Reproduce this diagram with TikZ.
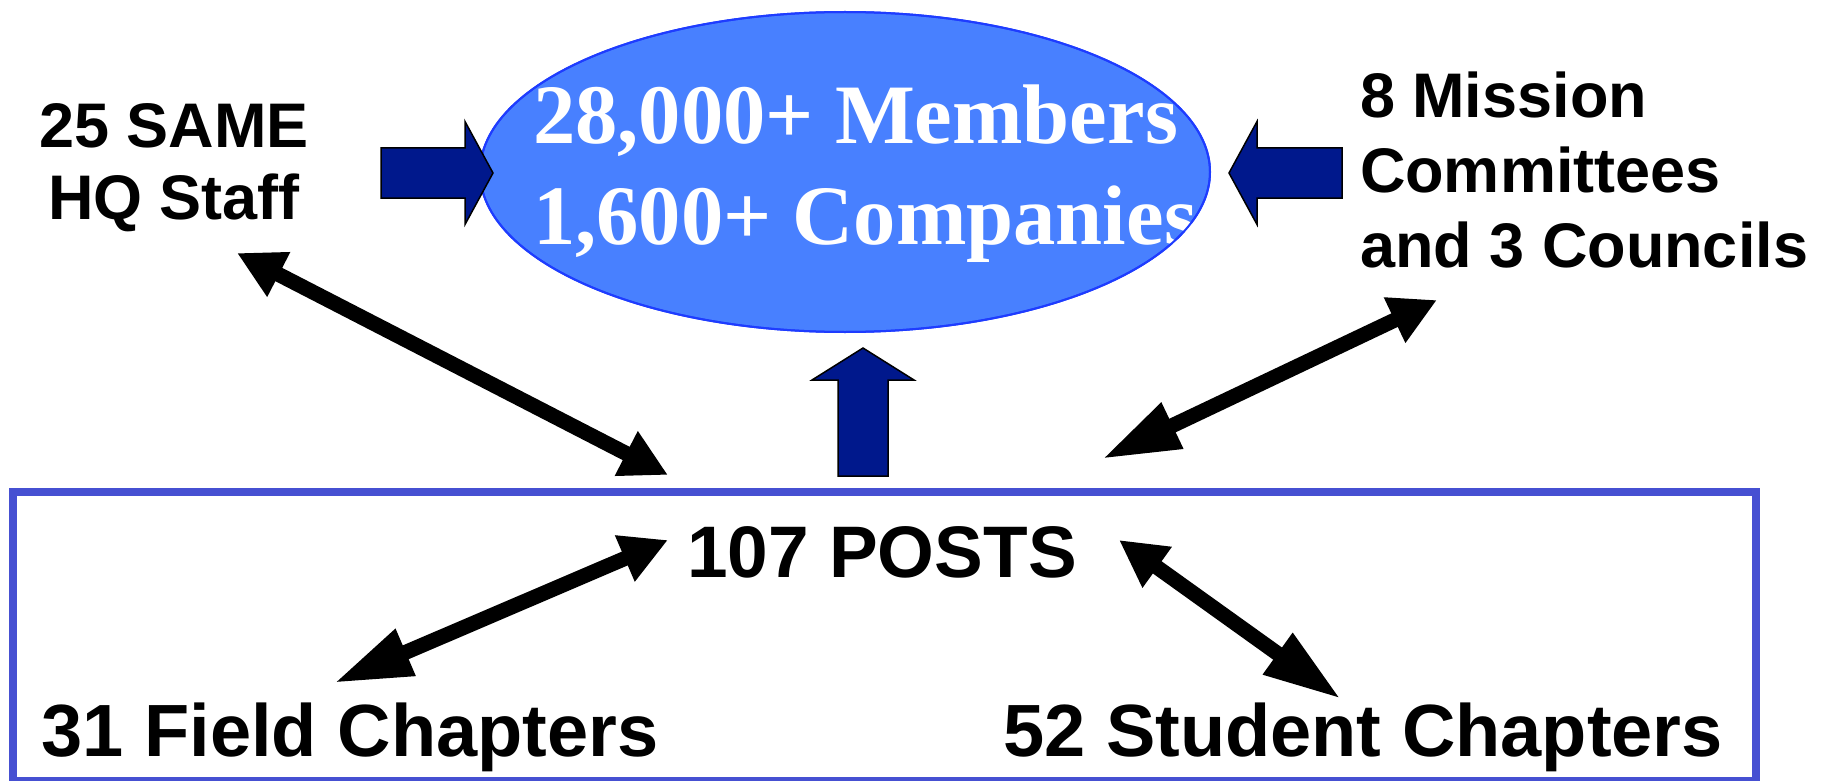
\documentclass[tikz,border=0pt]{standalone}
\usepackage{fontspec}
\setmainfont{Liberation Sans}
\newfontfamily\timesf{Liberation Serif}
\usetikzlibrary{shapes.geometric,arrows.meta}
\definecolor{ellfill}{RGB}{72,128,255}
\definecolor{ellline}{RGB}{30,60,255}
\definecolor{navy}{RGB}{0,24,140}
\definecolor{boxblue}{RGB}{70,80,210}
\tikzset{
  lbl/.style={inner sep=0pt, outer sep=0pt, text=black},
  blockarrow/.style={fill=navy, draw=black, line width=1.5pt, line join=miter},
  dblS/.style={line width=15pt, {Triangle[length=47pt,width=47pt]}-{Triangle[length=47pt,width=47pt]}},
  dblL/.style={line width=15pt, {Triangle[length=78pt,width=47pt]}-{Triangle[length=47pt,width=47pt]}},
}
\begin{document}
\begin{tikzpicture}[x=1pt,y=-1pt]
\useasboundingbox (0,0) rectangle (1837,781);
\fill[white] (0,0) rectangle (1837,781);

% container box
\node[draw=boxblue, line width=8pt, minimum width=1743pt, minimum height=289pt, inner sep=0pt] (box) at (884.5,636.5) {};

% central ellipse
\node[ellipse, fill=ellfill, draw=ellline, line width=2pt, minimum width=730pt, minimum height=320pt, inner sep=0pt] (members) at (845,172) {};
\node[lbl, anchor=base west, text=white, font=\timesf\bfseries\fontsize{84.6}{102}\selectfont] (memberstext) at (533,143)
  {\begin{tabular}[t]{@{}l@{}}28,000+ Members\\1,600+ Companies\end{tabular}};
\draw[ellline, line width=2pt] (members.center) ellipse [x radius=365, y radius=160];

% labels
\node[lbl, anchor=base, font=\bfseries\fontsize{63}{72}\selectfont] (hq) at (174,148)
  {\begin{tabular}[t]{@{}c@{}}25 SAME\\HQ Staff\end{tabular}};
\node[lbl, anchor=base west, font=\bfseries\fontsize{63}{75}\selectfont] (mission) at (1360,118)
  {\begin{tabular}[t]{@{}l@{}}8 Mission\\Committees\\and 3 Councils\end{tabular}};
\node[lbl, anchor=base, font=\bfseries\fontsize{73}{88}\selectfont] (posts) at (882,577) {107 POSTS};
\node[lbl, anchor=base, font=\bfseries\fontsize{74}{88}\selectfont] (field) at (350,756) {31 Field Chapters};
\node[lbl, anchor=base, font=\bfseries\fontsize{74}{88}\selectfont] (student) at (1363,756) {52 Student Chapters};

% block arrows
\draw[blockarrow] (381,148) -- (465,148) -- (465,121.5) -- (493,173) -- (465,224.5) -- (465,198) -- (381,198) -- cycle;
\draw[blockarrow] (1342,148) -- (1257,148) -- (1257,121.5) -- (1229,173) -- (1257,224.5) -- (1257,198) -- (1342,198) -- cycle;
\draw[blockarrow] (838,476) -- (838,380) -- (812,380) -- (863,348) -- (914,380) -- (888,380) -- (888,476) -- cycle;

% double arrows
\coordinate (hqEnd) at (237,253);
\coordinate (hqPost) at (668,475);
\coordinate (cmEnd) at (1437,300);
\coordinate (cmPost) at (1102,459);
\coordinate (fdPost) at (668,540);
\coordinate (fdEnd) at (334,683);
\coordinate (stPost) at (1119,540);
\coordinate (stEnd) at (1341,699);
\draw[dblS] (hqEnd) -- (hqPost);
\draw[dblL] (cmPost) -- (cmEnd);
\draw[dblL] (fdEnd) -- (fdPost);
\draw[dblL] (stEnd) -- (stPost);
\end{tikzpicture}
\end{document}
